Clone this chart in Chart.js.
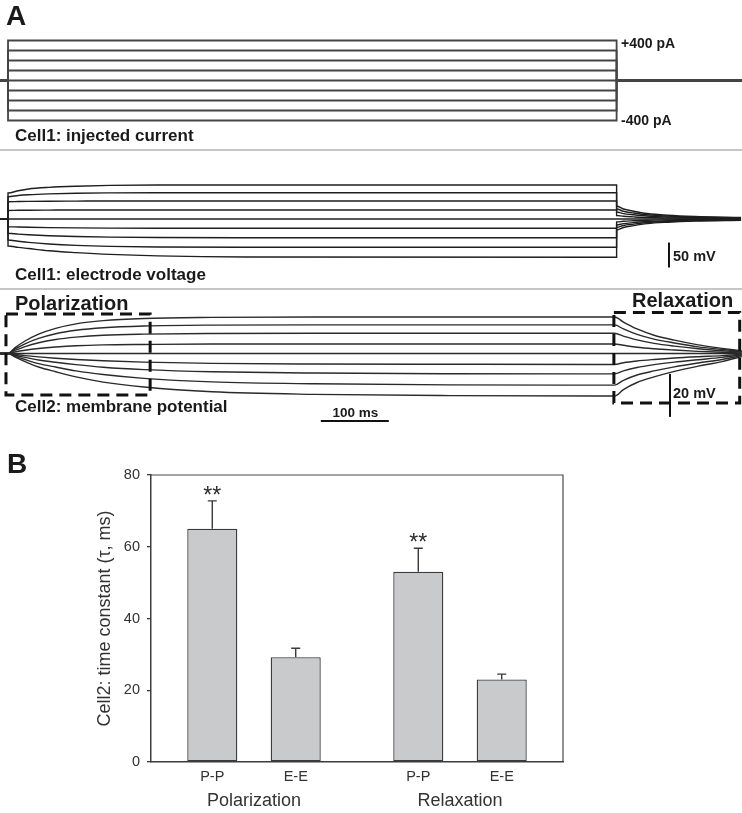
<!DOCTYPE html>
<html>
<head>
<meta charset="utf-8">
<script src="https://cdn.jsdelivr.net/npm/chart.js@4.4.1/dist/chart.umd.min.js"></script>
<style>
  body { margin: 0; background: #fff; }
  #fig { position: relative; width: 742px; height: 813px; overflow: hidden;
         font-family: "Liberation Sans", Arial, sans-serif; color: #1a1a1a; }
  canvas { position: absolute; left: 0; }
  .lbl { position: absolute; line-height: 1; white-space: nowrap; font-weight: bold; }
  .sep { position: absolute; left: 0; width: 742px; height: 2px; background: #c6c6c6; }
</style>
</head>
<body>
<div id="fig">
  <canvas id="currentChart" width="742" height="150" style="top:0"></canvas>
  <canvas id="electrodeChart" width="742" height="140" style="top:150px"></canvas>
  <canvas id="membraneChart" width="742" height="150" style="top:290px"></canvas>
  <canvas id="tauChart" width="742" height="373" style="top:440px"></canvas>

  <div class="sep" style="top:149px"></div>
  <div class="sep" style="top:288px"></div>

  <div class="lbl" style="left:6px;top:2px;font-size:28px">A</div>
  <div class="lbl" style="left:621px;top:35.5px;font-size:14px">+400 pA</div>
  <div class="lbl" style="left:621px;top:113px;font-size:14px">-400 pA</div>
  <div class="lbl" style="left:15px;top:127px;font-size:17px">Cell1: injected current</div>
  <div class="lbl" style="left:15px;top:266px;font-size:17px">Cell1: electrode voltage</div>
  <div class="lbl" style="left:673px;top:248.5px;font-size:14.5px">50 mV</div>
  <div class="lbl" style="left:15px;top:292.5px;font-size:20px">Polarization</div>
  <div class="lbl" style="left:632px;top:290px;font-size:20px">Relaxation</div>
  <div class="lbl" style="left:15px;top:398px;font-size:17px">Cell2: membrane potential</div>
  <div class="lbl" style="left:321px;width:69px;text-align:center;top:406px;font-size:13.5px">100 ms</div>
  <div class="lbl" style="left:673px;top:386px;font-size:14.5px">20 mV</div>
  <div class="lbl" style="left:7px;top:450px;font-size:28px">B</div>
</div>

<script>
//panel A data (time in ms)
const stepLevels = [400, 300, 200, 100, 0, -100, -200, -300, -400]; // pA
const stepTimes = [-12, 0, 0, 895, 895, 1080];

//cell1 electrode voltage (mV), one row per current step
const cell1Times = [-13, 0, 0, 15, 30, 60, 100, 150, 220, 350, 895, 895, 905, 920, 940, 970, 1010, 1078];
const cell1Volt = [
    [0, 0, 52, 56.5, 60, 63.2, 65.5, 67.2, 68, 68, 68, 26, 20, 15.6, 11, 7.5, 5, 3],
    [0, 0, 44.6, 47, 48.5, 50.2, 51.5, 52.2, 52.6, 52.6, 52.6, 20, 15.4, 12, 8.4, 5.8, 3.8, 2.3],
    [0, 0, 34.6, 35, 35.3, 35.6, 35.8, 36, 36, 36, 36, 14, 10.8, 8.4, 5.9, 4.1, 2.7, 1.6],
    [0, 0, 17, 17.4, 17.6, 17.8, 18, 18, 18, 18, 18, 7, 5.4, 4.2, 2.9, 2, 1.3, 0.8],
    [0, 0, 0, 0, 0, 0, 0, 0, 0, 0, 0, 0, 0, 0, 0, 0, 0, 0],
    [0, 0, -15.4, -16, -16.5, -17.2, -17.8, -18.2, -18.5, -18.6, -18.6, -6, -4.6, -3.6, -2.5, -1.7, -1.1, -0.7],
    [0, 0, -28.6, -30.2, -31.5, -33.4, -35, -36.2, -37, -37.4, -37.4, -12, -9.2, -7.2, -5, -3.5, -2.3, -1.4],
    [0, 0, -42, -44.5, -46.8, -50, -52.8, -54.8, -56, -56.6, -56.6, -17, -13, -10.2, -7.1, -4.9, -3.2, -2],
    [0, 0, -54, -56.8, -59, -63.5, -67.2, -70.8, -73.8, -76, -76.6, -22, -17, -13.2, -9.2, -6.4, -4.2, -2.5]
];

//cell2 membrane potential (mV)
const cell2Times = [-12, 0, 10, 25, 45, 70, 100, 140, 200, 300, 450, 650, 892, 905, 925, 950, 980, 1015, 1050, 1079];
const cell2Volt = [
    [0, 0, 2.6, 5.8, 9, 11.7, 13.8, 15.3, 16.3, 16.8, 17, 17, 17, 14.6, 11.4, 8.5, 6.2, 4, 2.4, 1.2],
    [0, 0, 2, 4.5, 7, 9.2, 10.8, 12, 12.8, 13.2, 13.3, 13.3, 13.3, 11.4, 8.9, 6.7, 4.9, 3.1, 1.9, 0.9],
    [0, 0, 1.4, 3.2, 5, 6.5, 7.6, 8.5, 9, 9.3, 9.4, 9.4, 9.4, 8.1, 6.3, 4.7, 3.4, 2.2, 1.3, 0.7],
    [0, 0, 0.7, 1.5, 2.3, 3, 3.6, 4, 4.2, 4.4, 4.4, 4.4, 4.4, 3.8, 2.9, 2.2, 1.6, 1, 0.6, 0.3],
    [0, 0, 0, 0, 0, 0, 0, 0, 0, 0, 0, 0, 0, 0, 0, 0, 0, 0, 0, 0],
    [0, 0, -0.4, -1, -1.6, -2.2, -2.8, -3.4, -4, -4.6, -4.9, -5, -5.1, -4.3, -3.5, -2.8, -2.1, -1.5, -1, -0.4],
    [0, 0, -0.8, -1.8, -3, -4.1, -5.2, -6.4, -7.5, -8.5, -9.1, -9.4, -9.5, -8.1, -6.5, -5.2, -4, -2.9, -1.8, -0.7],
    [0, 0, -1.2, -2.8, -4.7, -6.3, -8.1, -9.8, -11.6, -13.2, -14.1, -14.6, -14.7, -12.5, -10, -8.1, -6.2, -4.4, -2.8, -1],
    [0, 0, -1.6, -3.8, -6.3, -8.5, -10.9, -13.3, -15.6, -17.8, -19, -19.6, -19.8, -16.8, -13.5, -10.9, -8.3, -5.9, -3.8, -1.4]
];

//panel B data
const groups = ["Polarization", "Relaxation"];
const seriesNames = ["P-P", "E-E"];
const ppTau = [65, 53];
const ppErr = [7.8, 6.6];
const eeTau = [29.2, 23];
const eeErr = [2.5, 1.5];
const ppMarks = ["**", "**"];
const tauTicks = [0, 20, 40, 60, 80];

const FONT = "'Liberation Sans', Arial, sans-serif";
const X_MIN = -11.8, X_MAX = 1079.4;

//generic trace panel
function traceChart(id, times, rows, yMin, yMax, style, extra) {
    return new Chart(document.getElementById(id), {
        type: "line",
        data: {
            datasets: rows.map(r => ({
                data: times.map((t, i) => ({ x: t, y: r[i] })),
                borderColor: style.color,
                borderWidth: style.width,
                pointRadius: 0,
                tension: 0,
                cubicInterpolationMode: style.smooth ? "monotone" : "default",
                fill: false
            }))
        },
        options: {
            responsive: false,
            animation: false,
            events: [],
            layout: { padding: 0 },
            plugins: { legend: { display: false }, tooltip: { enabled: false } },
            scales: {
                x: { type: "linear", display: false, min: X_MIN, max: X_MAX },
                y: { type: "linear", display: false, min: yMin, max: yMax }
            }
        },
        plugins: extra ? [extra] : []
    });
}

function vBar(ctx, x, y, t, v0, v1) {
    const px = x.getPixelForValue(t);
    ctx.beginPath();
    ctx.moveTo(px, y.getPixelForValue(v0));
    ctx.lineTo(px, y.getPixelForValue(v1));
    ctx.stroke();
}

//current steps
traceChart("currentChart", stepTimes, stepLevels.map(L => [0, 0, L, L, 0, 0]),
    -695, 805, { color: "#454545", width: 1.8 });

//electrode voltage + 50 mV bar
traceChart("electrodeChart", cell1Times, cell1Volt, -142, 138,
    { color: "#1e1e1e", width: 1.4, smooth: true },
    {
        id: "bar50",
        afterDatasetsDraw(chart) {
            const { ctx, scales: { x, y } } = chart;
            ctx.save();
            ctx.strokeStyle = "#111";
            ctx.lineWidth = 2;
            vBar(ctx, x, y, 972, -47, -97);
            ctx.restore();
        }
    });

//membrane potential + boxes + scale bars
const boxes = [
    { t0: -3, t1: 209, v0: 18.4, v1: -19.3 },
    { t0: 891, t1: 1076, v0: 19.1, v1: -23 }
];
traceChart("membraneChart", cell2Times, cell2Volt, -40.24, 29.53,
    { color: "#2a2a2a", width: 1.4, smooth: true },
    {
        id: "boxes",
        afterDatasetsDraw(chart) {
            const { ctx, scales: { x, y } } = chart;
            ctx.save();
            ctx.strokeStyle = "#111";
            ctx.lineWidth = 3;
            ctx.setLineDash([12, 7]);
            boxes.forEach(b => {
                const l = x.getPixelForValue(b.t0), r = x.getPixelForValue(b.t1);
                const t = y.getPixelForValue(b.v0), btm = y.getPixelForValue(b.v1);
                ctx.strokeRect(l, t, r - l, btm - t);
            });
            ctx.setLineDash([]);
            ctx.lineWidth = 2;
            vBar(ctx, x, y, 973.5, -9.5, -29.5);
            //100 ms
            const yb = y.getPixelForValue(-31.4);
            ctx.beginPath();
            ctx.moveTo(x.getPixelForValue(460), yb);
            ctx.lineTo(x.getPixelForValue(560), yb);
            ctx.stroke();
            ctx.restore();
        }
    });

//bar chart frame (top/right) and error bars
const framePlugin = {
    id: "frame",
    afterDatasetsDraw(chart) {
        const { ctx, chartArea: a } = chart;
        ctx.save();
        ctx.strokeStyle = "#4a4a4a";
        ctx.lineWidth = 1.2;
        ctx.beginPath();
        ctx.moveTo(a.left, a.top);
        ctx.lineTo(a.right, a.top);
        ctx.lineTo(a.right, a.bottom);
        ctx.stroke();
        ctx.restore();
    }
};

const errorPlugin = {
    id: "errors",
    afterDatasetsDraw(chart) {
        const { ctx, chartArea: a, scales: { y } } = chart;
        ctx.save();
        chart.data.datasets.forEach((ds, di) => {
            chart.getDatasetMeta(di).data.forEach((bar, i) => {
                const top = y.getPixelForValue(ds.data[i] + ds.err[i]);
                ctx.strokeStyle = "#3a3a3a";
                ctx.lineWidth = 1.4;
                ctx.beginPath();
                ctx.moveTo(bar.x, bar.y);
                ctx.lineTo(bar.x, top);
                ctx.moveTo(bar.x - 4.5, top);
                ctx.lineTo(bar.x + 4.5, top);
                ctx.stroke();

                ctx.fillStyle = "#2a2a2a";
                ctx.textAlign = "center";
                if (ds.marks && ds.marks[i]) {
                    ctx.font = "23px " + FONT;
                    ctx.textBaseline = "alphabetic";
                    ctx.fillText(ds.marks[i], bar.x, top + 2);
                }
                ctx.fillStyle = "#333";
                ctx.font = "14.5px " + FONT;
                ctx.textBaseline = "middle";
                ctx.fillText(ds.label, bar.x, a.bottom + 14.5);
            });
        });
        ctx.restore();
    }
};

new Chart(document.getElementById("tauChart"), {
    type: "bar",
    data: {
        labels: groups,
        datasets: [
            { label: seriesNames[0], data: ppTau, err: ppErr, marks: ppMarks },
            { label: seriesNames[1], data: eeTau, err: eeErr }
        ].map(d => Object.assign(d, {
            backgroundColor: "#c9cacc",
            borderColor: "#3a3a3a",
            borderWidth: 1.3,
            borderSkipped: false,
            categoryPercentage: 0.81,
            barPercentage: 0.6
        }))
    },
    options: {
        responsive: false,
        animation: false,
        events: [],
        layout: { padding: { left: 0, top: 35, right: 179, bottom: 0 } },
        plugins: { legend: { display: false }, tooltip: { enabled: false } },
        scales: {
            x: {
                grid: { display: false, drawTicks: false },
                border: { display: true, color: "#3d3d3d", width: 1.5 },
                ticks: { padding: 28, color: "#333", font: { family: FONT, size: 18 } },
                afterFit(s) { s.height = 51; }
            },
            y: {
                min: tauTicks[0],
                max: tauTicks[tauTicks.length - 1],
                afterBuildTicks(s) { s.ticks = tauTicks.map(v => ({ value: v })); },
                ticks: { padding: 7, color: "#333", font: { family: FONT, size: 14.5 } },
                grid: { drawOnChartArea: false, drawTicks: true, tickLength: 4, color: "#3d3d3d", lineWidth: 1.3 },
                border: { display: true, color: "#3d3d3d", width: 1.5 },
                title: {
                    display: true,
                    text: "Cell2: time constant (\u03C4, ms)",
                    color: "#333",
                    font: { family: FONT, size: 18 },
                    padding: { top: 94, bottom: 0 }
                },
                afterFit(s) { s.width = 151; }
            }
        }
    },
    plugins: [framePlugin, errorPlugin]
});
</script>
</body>
</html>
